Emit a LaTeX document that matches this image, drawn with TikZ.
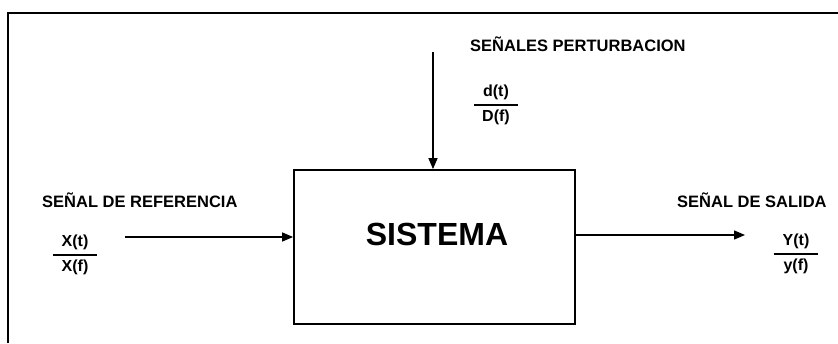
\documentclass[tikz,border=0pt]{standalone}
\usepackage{amsmath}
\usepackage{fontspec}
\setmainfont{Liberation Sans}
\usepackage{tikz}
\usetikzlibrary{arrows.meta, positioning, calc}

\newcommand{\sigfrac}[2]{$\genfrac{}{}{1.5pt}{0}{\text{\hspace{9pt}#1\hspace{9pt}}}{\text{#2}}$}

\begin{document}
\begin{tikzpicture}[
    x=1pt, y=-1pt,
    frame/.style={line width=2.4pt},
    sysbox/.style={rectangle, draw, line width=1.8pt, minimum width=281pt, minimum height=154pt, inner sep=0pt},
    label/.style={font=\fontsize{16.5}{19}\selectfont\bfseries, inner sep=0pt},
    signal/.style={font=\fontsize{16}{18}\selectfont\bfseries, inner sep=0pt},
    arrow/.style={-{Triangle[length=11pt,width=9pt]}, line width=1.4pt}
]
\useasboundingbox (0,0) rectangle (838,343);

% outer frame
\draw[frame] (8,343) -- (8,13) -- (838,13);

% system block
\node[sysbox] (sys) at (434.5,247) {};
\node[font=\fontsize{32}{36}\selectfont\bfseries, inner sep=0pt] (systxt) at (437,234) {SISTEMA};

% signals
\node[label, anchor=base west] (ref)  at (42,207)  {SEÑAL DE REFERENCIA};
\node[label, anchor=base west] (pert) at (470,51)  {SEÑALES PERTURBACION};
\node[label, anchor=base west] (sal)  at (677,207) {SEÑAL DE SALIDA};

\node[signal] (xsig) at (75,255)  {\sigfrac{X(t)}{X(f)}};
\node[signal] (dsig) at (496,105) {\sigfrac{d(t)}{D(f)}};
\node[signal] (ysig) at (796,254) {\sigfrac{Y(t)}{y(f)}};

% connectors
\coordinate (xin)  at (125,237);
\coordinate (dtop) at (433,52);
\coordinate (yout) at (745,235);

\draw[arrow] (xin) -- (xin -| sys.west);
\draw[arrow] (dtop) -- (dtop |- sys.north);
\draw[arrow] (sys.east |- yout) -- (yout);

\end{tikzpicture}
\end{document}
